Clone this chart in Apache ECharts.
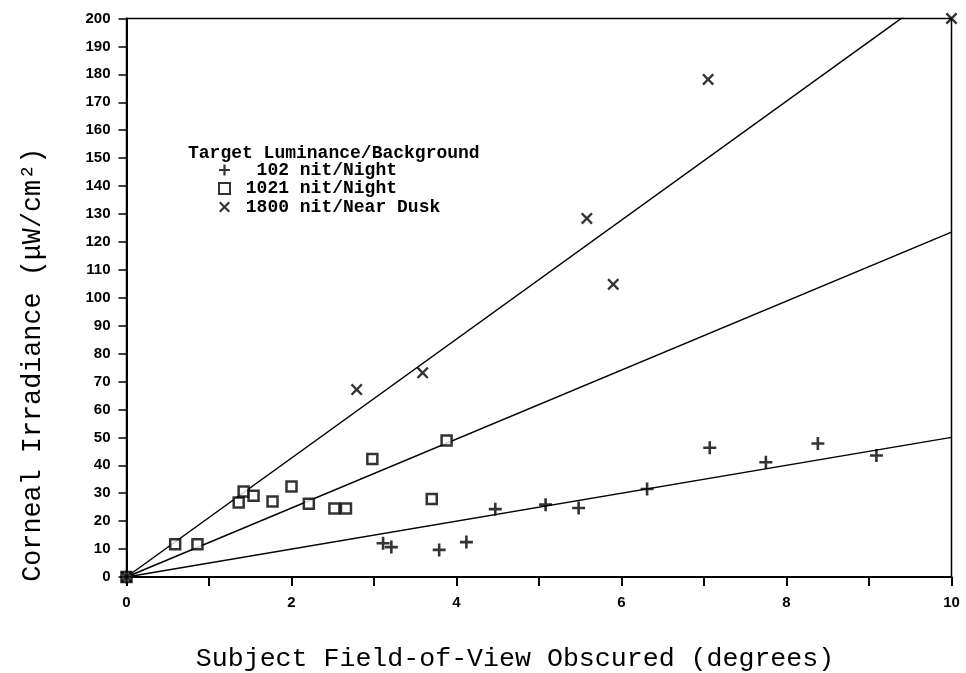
<!DOCTYPE html>
<html>
<head>
<meta charset="utf-8">
<script src="https://cdn.jsdelivr.net/npm/echarts@6/dist/echarts.min.js"></script>
<style>html,body{margin:0;padding:0;background:#fff}#chart{width:966px;height:673px}</style>
</head>
<body>
<div id="chart"></div>
<script>
var seriesNames = ['102 nit/Night', '1021 nit/Night', '1800 nit/Near Dusk'];

var plusX = [0, 3.11, 3.21, 3.79, 4.12, 4.47, 5.08, 5.48, 6.31, 7.07, 7.75, 8.38, 9.09];
var plusY = [0, 12.1, 10.7, 9.7, 12.5, 24.3, 25.9, 24.7, 31.5, 46.3, 41.1, 47.8, 43.5];

var squareX = [0, 0.59, 0.86, 1.36, 1.42, 1.54, 1.77, 2.00, 2.21, 2.52, 2.66, 2.98, 3.70, 3.88];
var squareY = [0, 11.7, 11.7, 26.7, 30.6, 29.1, 27.0, 32.4, 26.2, 24.5, 24.5, 42.3, 27.9, 48.9];

var crossX = [0, 2.79, 3.59, 5.58, 5.90, 7.05, 10];
var crossY = [0, 67.1, 73.1, 128.4, 104.8, 178.2, 200];

// fitted lines go through the origin, value at x = 10
var fitAtTen = [50, 123.5, 213];

function pairs(xs, ys) {
    return xs.map(function (x, i) { return [x, ys[i]]; });
}

var plusPath = 'path://M4,0H6V4H10V6H6V10H4V6H0V4H4Z';
var crossPath = 'path://M0,1.4L1.4,0L5,3.6L8.6,0L10,1.4L6.4,5L10,8.6L8.6,10L5,6.4L1.4,10L0,8.6L3.6,5Z';
var legendPad = {};
legendPad[seriesNames[0]] = '  ';
legendPad[seriesNames[1]] = ' ';
legendPad[seriesNames[2]] = ' ';

var mono = "'Liberation Mono', 'DejaVu Sans Mono', monospace";
var sans = "'Liberation Sans', Arial, sans-serif";

var chart = echarts.init(document.getElementById('chart'));

var series = [
    {
        name: seriesNames[0], type: 'scatter', symbol: plusPath, symbolSize: 13,
        itemStyle: {color: '#000'}, data: pairs(plusX, plusY), z: 5
    },
    {
        name: seriesNames[1], type: 'scatter', symbol: 'rect', symbolSize: 10,
        itemStyle: {color: '#fff', borderColor: '#000', borderWidth: 2.5}, data: pairs(squareX, squareY), z: 4
    },
    {
        name: seriesNames[2], type: 'scatter', symbol: crossPath, symbolSize: 12,
        itemStyle: {color: '#000'}, data: pairs(crossX, crossY), z: 5, clip: false
    }
];
fitAtTen.forEach(function (v) {
    series.push({
        type: 'line', data: [[0, 0], [10, v]], symbol: 'none', silent: true, clip: true,
        lineStyle: {color: '#000', width: 1.5}, z: 3
    });
});

var option = {
    animation: false,
    backgroundColor: '#fff',
    grid: {
        left: 126.5, right: 14.5, top: 18.5, bottom: 96, containLabel: false, outerBoundsMode: 'none',
        show: true, borderColor: '#000', borderWidth: 1.5
    },
    graphic: [{
        type: 'text', left: 188, top: 144,
        style: {text: 'Target Luminance/Background', font: 'bold 18px ' + mono, fill: '#000'}
    }],
    legend: {
        data: seriesNames, orient: 'vertical', left: 218, top: 161,
        itemWidth: 11, itemHeight: 11, itemGap: 0.5, padding: 0,
        formatter: function (name) { return legendPad[name] + name; },
        textStyle: {fontFamily: mono, fontSize: 18, fontWeight: 'bold', color: '#000'}
    },
    xAxis: {
        type: 'value', min: 0, max: 10, interval: 1,
        name: 'Subject Field-of-View Obscured (degrees)', nameLocation: 'middle', nameGap: 68,
        nameTextStyle: {fontFamily: mono, fontSize: 26.6, color: '#000', padding: [0, 48, 0, 0]},
        axisLine: {lineStyle: {color: '#000', width: 2}},
        axisTick: {inside: false, length: 9, lineStyle: {color: '#000', width: 2}},
        axisLabel: {
            margin: 18, color: '#000', fontFamily: sans, fontSize: 15, fontWeight: 'bold',
            formatter: function (v) { return v % 2 === 0 ? String(v) : ''; }
        },
        splitLine: {show: false}
    },
    yAxis: {
        type: 'value', min: 0, max: 200, interval: 10,
        name: 'Corneal Irradiance (\u03bcW/cm\u00b2)', nameLocation: 'middle', nameGap: 80, nameRotate: 90,
        nameTextStyle: {fontFamily: mono, fontSize: 26.8, color: '#000', padding: [0, 134, 0, 0]},
        axisLine: {lineStyle: {color: '#000', width: 2}},
        axisTick: {inside: false, length: 8, lineStyle: {color: '#000', width: 1.5}},
        axisLabel: {margin: 16, color: '#000', fontFamily: sans, fontSize: 15, fontWeight: 'bold'},
        splitLine: {show: false}
    },
    series: series
};
chart.setOption(option);
</script>
</body>
</html>
